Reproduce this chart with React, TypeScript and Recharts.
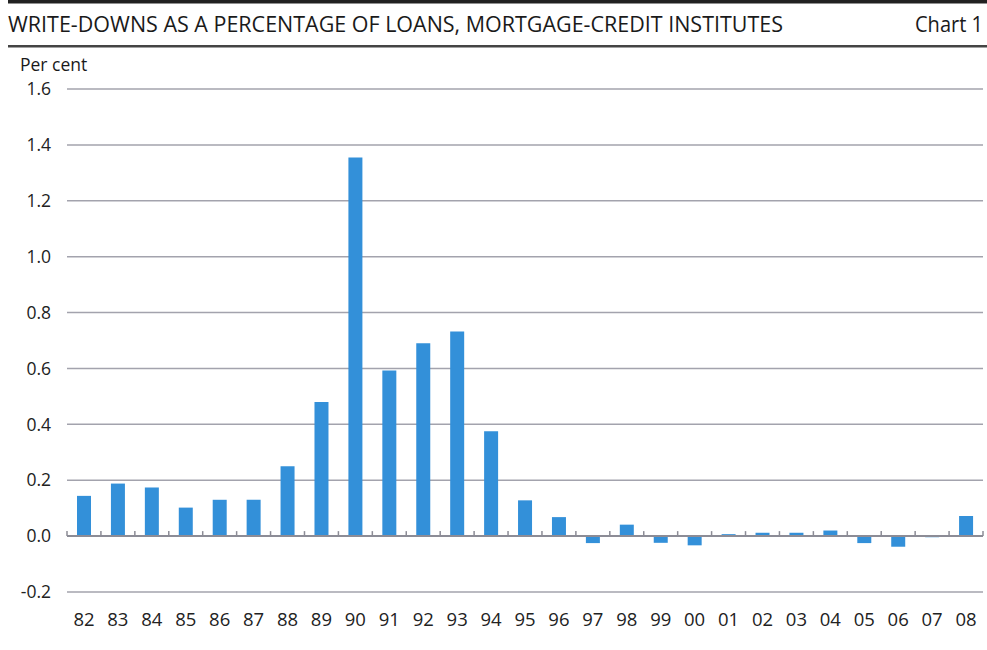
import React from "react";
import {
  Bar,
  XAxis,
  YAxis,
  BarChart,
  CartesianGrid,
  ReferenceLine,
} from "recharts";

const years = [
  "82", "83", "84", "85", "86", "87", "88", "89", "90", "91", "92", "93", "94",
  "95", "96", "97", "98", "99", "00", "01", "02", "03", "04", "05", "06", "07", "08",
];

const writeDowns = [
  0.144, 0.188, 0.174, 0.102, 0.13, 0.13, 0.25, 0.48, 1.355, 0.593, 0.69, 0.732, 0.375,
  0.128, 0.068, -0.025, 0.041, -0.024, -0.033, 0.007, 0.012, 0.012, 0.02, -0.025, -0.038, -0.004, 0.072,
];

const yTicks = [-0.2, 0, 0.2, 0.4, 0.6, 0.8, 1.0, 1.2, 1.4, 1.6];

const title = "WRITE-DOWNS AS A PERCENTAGE OF LOANS, MORTGAGE-CREDIT INSTITUTES";
const chartNo = "Chart 1";
const unitLabel = "Per cent";

const font = "'Open Sans', 'Noto Sans', sans-serif";
const barColor = "#3390d9";
const gridColor = "#a3a3ad";

// zero line with little ticks between the categories
const ZeroLine = (props: any) => {
  const { x1, x2, y1 } = props;
  const n = years.length;
  const step = (x2 - x1) / n;
  const ticks = [];
  for (let i = 0; i <= n; i++) {
    const x = x1 + i * step;
    ticks.push(<line key={i} x1={x} x2={x} y1={y1} y2={y1 - 5} stroke="#8c8c96" strokeWidth={1.5} />);
  }
  return (
    <g>
      <line x1={x1} x2={x2} y1={y1} y2={y1} stroke="#8c8c96" strokeWidth={2} />
      {ticks}
    </g>
  );
};

const App = () => {
  const data = years.map((year, i) => ({ year, value: writeDowns[i] }));

  return (
    <div style={{ position: "absolute", left: 0, top: 0, width: 987, height: 650, background: "#fff" }}>
      <BarChart
        width={987}
        height={650}
        data={data}
        margin={{ top: 89, right: 4, bottom: 0, left: 0 }}
      >
        <CartesianGrid vertical={false} stroke={gridColor} strokeWidth={1.5} />
        <XAxis
          dataKey="year"
          axisLine={false}
          tickLine={false}
          tickSize={0}
          tickMargin={21}
          height={58}
          interval={0}
          tick={{ fontSize: 18.5, fill: "#222", fontFamily: font }}
        />
        <YAxis
          domain={[-0.2, 1.6]}
          ticks={yTicks}
          axisLine={false}
          tickLine={false}
          tickSize={0}
          tickMargin={16}
          width={67}
          tickFormatter={(v) => v.toFixed(1)}
          tick={{ fontSize: 17.5, fill: "#222", fontFamily: font }}
        />
        <ReferenceLine y={0} shape={ZeroLine} />
        <Bar dataKey="value" fill={barColor} barSize={14} isAnimationActive={false} />
      </BarChart>
      <svg
        width={987}
        height={650}
        style={{ position: "absolute", left: 0, top: 0, pointerEvents: "none" }}
      >
        <rect x={8} y={0} width={979} height={3.5} fill="#222" />
        <text
          x={8}
          y={32}
          fontSize={21}
          fontFamily={font}
          fill="#1a1a1a"
          textLength={775}
          lengthAdjust="spacingAndGlyphs"
        >
          {title}
        </text>
        <text
          x={915}
          y={32}
          fontSize={21}
          fontFamily={font}
          fill="#1a1a1a"
          textLength={68}
          lengthAdjust="spacingAndGlyphs"
        >
          {chartNo}
        </text>
        <rect x={8} y={45} width={979} height={2.5} fill="#444" />
        <text x={20} y={71} fontSize={17.5} fontFamily={font} fill="#1a1a1a">
          {unitLabel}
        </text>
      </svg>
    </div>
  );
};

export default App;
